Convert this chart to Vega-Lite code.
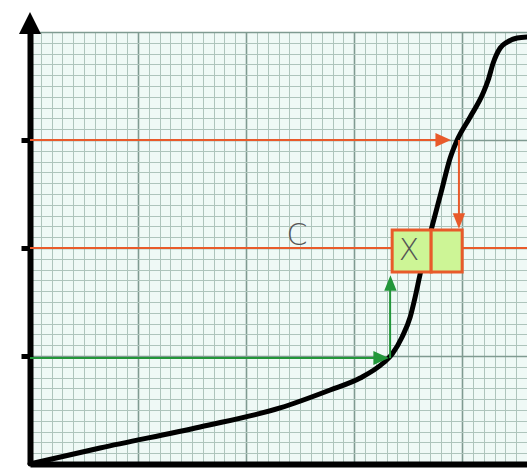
{
  "$schema": "https://vega.github.io/schema/vega-lite/v6.json",
  "width": 497,
  "height": 432,
  "autosize": {"type": "none"},
  "padding": {"left": 30, "top": 32, "right": 0, "bottom": 5},
  "background": "#ffffff",
  "view": {"fill": "#eff9f6", "stroke": null},
  "config": {"axis": {"labels": false, "title": null}},
  "datasets": {
    "curve": [
      {"x": 0, "y": 0}, {"x": 0.648, "y": 0.148}, {"x": 1.574, "y": 0.343}, {"x": 2.315, "y": 0.519},
      {"x": 2.778, "y": 0.685}, {"x": 3.056, "y": 0.796}, {"x": 3.269, "y": 0.935}, {"x": 3.352, "y": 1.019},
      {"x": 3.444, "y": 1.176}, {"x": 3.519, "y": 1.361}, {"x": 3.565, "y": 1.546}, {"x": 3.611, "y": 1.759},
      {"x": 3.713, "y": 2.167}, {"x": 3.806, "y": 2.519}, {"x": 3.889, "y": 2.833}, {"x": 3.954, "y": 3.0},
      {"x": 4.074, "y": 3.213}, {"x": 4.194, "y": 3.435}, {"x": 4.241, "y": 3.556}, {"x": 4.287, "y": 3.713},
      {"x": 4.352, "y": 3.852}, {"x": 4.417, "y": 3.907}, {"x": 4.509, "y": 3.944}, {"x": 4.6, "y": 3.954}
    ],
    "segments": [
      {"x": 0, "y": 3.0, "x2": 3.85, "y2": 3.0, "series": "orange"},
      {"x": 3.97, "y": 3.0, "x2": 3.97, "y2": 2.28, "series": "orange"},
      {"x": 0, "y": 2.0, "x2": 4.6, "y2": 2.0, "series": "orange"},
      {"x": 0, "y": 0.981, "x2": 3.27, "y2": 0.981, "series": "green"},
      {"x": 3.333, "y": 0.981, "x2": 3.333, "y2": 1.66, "series": "green"}
    ],
    "boxes": [
      {"x": 3.352, "x2": 3.713, "y": 1.778, "y2": 2.167},
      {"x": 3.713, "x2": 4.0, "y": 1.778, "y2": 2.167}
    ],
    "labels": [
      {"x": 2.472, "y": 2.111, "text": "C"},
      {"x": 3.509, "y": 1.972, "text": "X"}
    ],
    "heads": [
      {"x": 3.824, "y": 3.0, "dir": "right", "series": "orange"},
      {"x": 3.97, "y": 2.25, "dir": "down", "series": "orange"},
      {"x": 3.25, "y": 0.981, "dir": "right", "series": "green"},
      {"x": 3.336, "y": 1.676, "dir": "up", "series": "green"}
    ],
    "axisHead": [
      {"x": 0, "y": 4.083}
    ]
  },
  "encoding": {
    "x": {
      "field": "x", "type": "quantitative",
      "scale": {"domain": [0, 4.6], "nice": false, "zero": false},
      "axis": {
        "values": [0,0.1,0.2,0.3,0.4,0.5,0.6,0.7,0.8,0.9,1,1.1,1.2,1.3,1.4,1.5,1.6,1.7,1.8,1.9,2,2.1,2.2,2.3,2.4,2.5,2.6,2.7,2.8,2.9,3,3.1,3.2,3.3,3.4,3.5,3.6,3.7,3.8,3.9,4,4.1,4.2,4.3,4.4,4.5,4.6],
        "grid": true,
        "gridColor": {"condition": {"test": "abs(datum.value - round(datum.value)) < 0.01", "value": "#7f9a91"}, "value": "#aec4bc"},
        "gridWidth": {"condition": {"test": "abs(datum.value - round(datum.value)) < 0.01", "value": 1.6}, "value": 1},
        "ticks": false,
        "domain": true, "domainColor": "#000000", "domainWidth": 6
      }
    },
    "y": {
      "field": "y", "type": "quantitative",
      "scale": {"domain": [0, 4], "nice": false, "zero": false},
      "axis": {
        "values": [0,0.1,0.2,0.3,0.4,0.5,0.6,0.7,0.8,0.9,1,1.1,1.2,1.3,1.4,1.5,1.6,1.7,1.8,1.9,2,2.1,2.2,2.3,2.4,2.5,2.6,2.7,2.8,2.9,3,3.1,3.2,3.3,3.4,3.5,3.6,3.7,3.8,3.9,4],
        "grid": true,
        "gridColor": {"condition": {"test": "abs(datum.value - round(datum.value)) < 0.01", "value": "#7f9a91"}, "value": "#aec4bc"},
        "gridWidth": {"condition": {"test": "abs(datum.value - round(datum.value)) < 0.01", "value": 1.6}, "value": 1},
        "ticks": true,
        "tickColor": "#000000",
        "tickWidth": 5,
        "tickSize": 9,
        "tickOpacity": {"condition": {"test": "datum.value === 1 || datum.value === 2 || datum.value === 3", "value": 1}, "value": 0},
        "domain": true, "domainColor": "#000000", "domainWidth": 6
      }
    }
  },
  "layer": [
    {
      "data": {"name": "curve"},
      "mark": {"type": "line", "color": "#000000", "strokeWidth": 5, "interpolate": "monotone", "strokeCap": "round"}
    },
    {
      "data": {"name": "segments"},
      "mark": {"type": "rule", "strokeWidth": 2},
      "encoding": {
        "x2": {"field": "x2"},
        "y2": {"field": "y2"},
        "color": {"field": "series", "type": "nominal", "scale": {"domain": ["orange", "green"], "range": ["#e85a2a", "#22963a"]}, "legend": null}
      }
    },
    {
      "data": {"name": "boxes"},
      "mark": {"type": "rect", "fill": "#cdf596", "stroke": "#e85a2a", "strokeWidth": 3},
      "encoding": {
        "x2": {"field": "x2"},
        "y2": {"field": "y2"}
      }
    },
    {
      "data": {"name": "labels"},
      "mark": {"type": "text", "font": "DejaVu Sans", "fontSize": 30, "fontWeight": 200, "color": "#555555", "baseline": "middle", "align": "center"},
      "encoding": {"text": {"field": "text"}}
    },
    {
      "data": {"name": "heads"},
      "mark": {"type": "point", "filled": true, "opacity": 1, "size": 240},
      "encoding": {
        "shape": {"field": "dir", "type": "nominal", "scale": {"domain": ["right", "down", "up"], "range": ["M-1,-0.9L1,0L-1,0.9Z", "M-0.8,-1L0.8,-1L0,1Z", "M-0.8,1L0.8,1L0,-1Z"]}, "legend": null},
        "color": {"field": "series", "type": "nominal", "scale": {"domain": ["orange", "green"], "range": ["#e85a2a", "#22963a"]}, "legend": null}
      }
    },
    {
      "data": {"name": "axisHead"},
      "mark": {"type": "point", "filled": true, "opacity": 1, "size": 484, "color": "#000000", "shape": "M-1,1L0,-1L1,1Z"}
    }
  ]
}
